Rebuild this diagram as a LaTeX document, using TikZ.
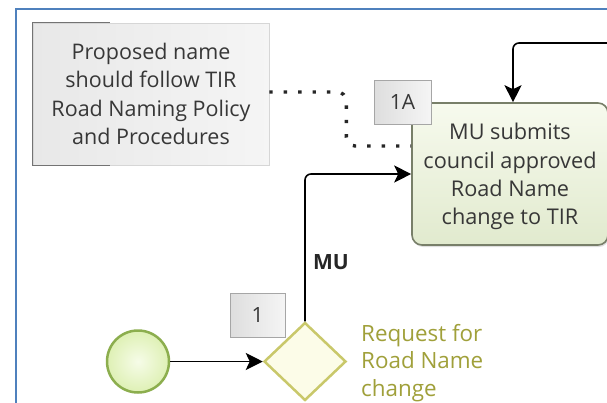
\documentclass[tikz,border=0pt]{standalone}
\usepackage{fontspec}
\setmainfont{Open Sans}
\usetikzlibrary{shapes.geometric,arrows.meta,shadows}
\definecolor{frameblue}{RGB}{79,129,189}
\definecolor{txtgray}{RGB}{55,55,55}
\definecolor{taskborder}{RGB}{120,127,105}
\definecolor{tasktop}{RGB}{247,250,238}
\definecolor{taskbot}{RGB}{225,234,206}
\definecolor{startborder}{RGB}{140,174,78}
\definecolor{startin}{RGB}{246,252,232}
\definecolor{startout}{RGB}{222,240,180}
\definecolor{gwborder}{RGB}{201,200,106}
\definecolor{gwfill}{RGB}{252,252,232}
\definecolor{gwtext}{RGB}{160,160,58}
\tikzset{
  annot/.style={draw=black!16, line width=0.6pt, left color=black!9, right color=black!4,
    align=center, text=txtgray, inner sep=0pt, font=\fontsize{21.5}{28.3}\selectfont},
  bracket/.style={draw=black!55, line width=1.5pt},
  taskbox/.style={draw=taskborder, line width=1.6pt, rounded corners=10pt,
    top color=tasktop, bottom color=taskbot, align=center, text=txtgray, inner sep=0pt,
    font=\fontsize{21.7}{28.4}\selectfont,
    drop shadow={shadow xshift=1pt, shadow yshift=-2pt, opacity=0.25}},
  numbox/.style={draw=black!35, line width=0.8pt, left color=black!13, right color=black!4,
    text=txtgray, inner sep=0pt, font=\fontsize{21}{24}\selectfont},
  startev/.style={circle, draw=startborder, line width=2.5pt, inner color=startin, outer color=startout, inner sep=0pt},
  gateway/.style={diamond, draw=gwborder, line width=2.5pt, fill=gwfill, inner sep=0pt,
    minimum width=82pt, minimum height=78pt},
  gwlabel/.style={align=left, text=gwtext, inner sep=0pt, font=\fontsize{22.4}{27.5}\selectfont},
  mulabel/.style={text=black!85, inner sep=0pt, font=\fontsize{21}{24}\selectfont\bfseries},
  flow/.style={draw=black, line width=1.6pt, -{Stealth[length=17pt,width=17pt,inset=4pt]}},
  assoc/.style={draw=black!85, line width=3.4pt, dash pattern=on 3.4pt off 11pt}
}
\begin{document}
\begin{tikzpicture}[x=1pt,y=-1pt]
\useasboundingbox (0,0) rectangle (607,402);
\fill[white] (0,0) rectangle (607,402);
\draw[frameblue, line width=2pt] (16,404) -- (16,9) -- (609,9);

% annotation
\node[annot, minimum width=236pt, minimum height=142pt] (ann) at (151,94)
  {Proposed name\\should follow TIR\\Road Naming Policy\\and Procedures};
\draw[bracket] ([xshift=77pt]ann.north west) -- (ann.north west) -- (ann.south west) -- ([xshift=77pt]ann.south west);

% task
\node[taskbox, minimum width=196pt, minimum height=142pt] (task) at (510,174)
  {\rule{0pt}{22pt}MU submits\\council approved\\Road Name\\change to TIR};
\node[numbox, minimum width=57pt, minimum height=44pt] (n1a) at (402.5,102) {1A};

% start event and gateway
\node[startev, minimum size=62pt] (start) at (138,361.5) {};
\node[gateway] (gw) at (305,361.5) {};
\node[numbox, minimum width=55pt, minimum height=44pt] (n1) at (257.5,315) {1};
\node[gwlabel, anchor=west] (gwl) at (361,363) {Request for\\Road Name\\change};
\node[mulabel] (mu) at (331,262) {MU};

% connectors
\coordinate (topin) at (612,43);
\draw[flow] (start) -- (gw);
\draw[flow, rounded corners=6pt] (gw.north) |- (task.west);
\draw[flow, rounded corners=6pt] (topin) -| ([xshift=3pt]task.north);
\draw[assoc, rounded corners=9pt] ([yshift=2pt]ann.east) -- ++(77,0) -- ++(0,54) -- (task.west |- 0,146);
\end{tikzpicture}
\end{document}
